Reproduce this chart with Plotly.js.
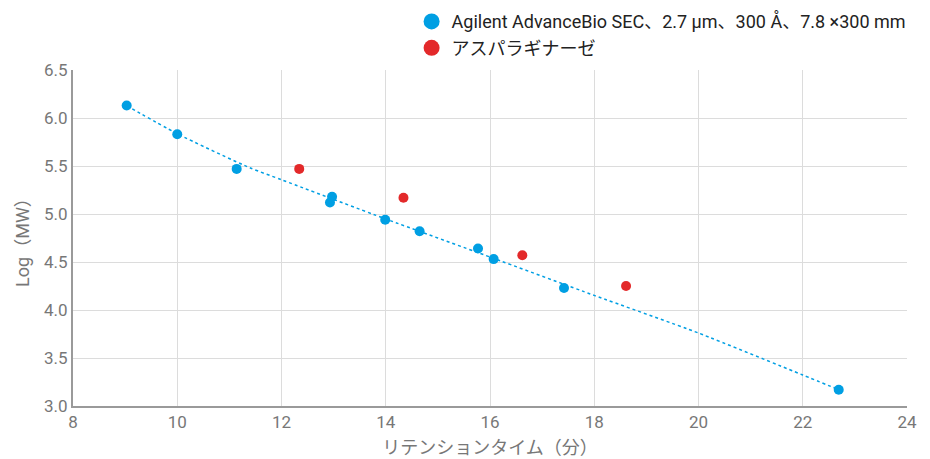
<!DOCTYPE html>
<html>
<head>
<meta charset="utf-8">
<script src="https://cdn.plot.ly/plotly-3.0.1.min.js"></script>
<style>html,body{margin:0;padding:0;background:#fff;}#chart{width:930px;height:459px;}</style>
</head>
<body>
<div id="chart"></div>
<script>
// Column standards (blue)
const stdName = "Agilent AdvanceBio SEC、2.7 µm、300 Å、7.8 ×300 mm";
const stdTime = [9.03, 10.0, 11.14, 12.97, 12.93, 13.99, 14.65, 15.77, 16.07, 17.42, 22.69];
const stdLogMW = [6.13, 5.83, 5.47, 5.18, 5.12, 4.94, 4.82, 4.64, 4.53, 4.23, 3.17];

// Asparaginase (red)
const aspName = "アスパラギナーゼ";
const aspTime = [12.34, 14.34, 16.62, 18.61];
const aspLogMW = [5.47, 5.17, 4.57, 4.25];

// Calibration curve
const fitTime = [9.03, 10.0, 11.39, 12.0, 14.0, 16.0, 18.0, 20.0, 22.0, 22.69];
const fitLogMW = [6.128, 5.836, 5.482, 5.357, 4.948, 4.552, 4.152, 3.760, 3.323, 3.170];

// Axis ticks
const xTicks = [8, 10, 12, 14, 16, 18, 20, 22, 24];
const yTicks = [3.0, 3.5, 4.0, 4.5, 5.0, 5.5, 6.0, 6.5];

const xTitle = "リテンションタイム（分）";
const yTitle = "Log（MW）";

const FONT = "Roboto, 'Noto Sans CJK JP', sans-serif";
const BLUE = "#009fe3";
const RED = "#e3292a";

const traces = [
  {
    x: fitTime, y: fitLogMW, mode: "lines", type: "scatter",
    line: {color: BLUE, width: 1.5, dash: "dot", shape: "spline", smoothing: 0.6},
    showlegend: false, hoverinfo: "skip"
  },
  {
    x: stdTime, y: stdLogMW, mode: "markers", type: "scatter", name: stdName,
    marker: {color: BLUE, size: 10}, showlegend: false
  },
  {
    x: aspTime, y: aspLogMW, mode: "markers", type: "scatter", name: aspName,
    marker: {color: RED, size: 10}, showlegend: false
  },
  // legend-only entries with larger symbols
  {
    x: [null], y: [null], mode: "markers", type: "scatter", name: stdName,
    marker: {color: BLUE, size: 16}, showlegend: true
  },
  {
    x: [null], y: [null], mode: "markers", type: "scatter", name: aspName,
    marker: {color: RED, size: 16}, showlegend: true
  }
];

const layout = {
  width: 930, height: 459,
  margin: {l: 73, r: 23, t: 70, b: 53},
  paper_bgcolor: "#fff", plot_bgcolor: "#fff",
  font: {family: FONT, size: 16, color: "#777"},
  showlegend: true,
  legend: {
    x: 0.406, xanchor: "left", y: 0.993, yref: "container", yanchor: "top",
    font: {family: FONT, size: 18, color: "#222"},
    bgcolor: "rgba(0,0,0,0)", itemsizing: "trace", tracegroupgap: 0
  },
  xaxis: {
    range: [8, 24], tickvals: xTicks, ticktext: xTicks.map(String),
    showgrid: true, gridcolor: "#dcdcdc", gridwidth: 1,
    showline: true, linecolor: "#9a9a9a", linewidth: 2,
    zeroline: false, ticks: "", ticklen: 0,
    tickfont: {family: FONT, size: 17, color: "#777"},
    title: {text: xTitle, font: {family: FONT, size: 18, color: "#777"}, standoff: 10}
  },
  yaxis: {
    range: [3.0, 6.5], tickvals: yTicks, ticktext: yTicks.map(v => v.toFixed(1)),
    showgrid: true, gridcolor: "#dcdcdc", gridwidth: 1,
    showline: true, linecolor: "#9a9a9a", linewidth: 2,
    zeroline: false, ticks: "", ticklen: 0,
    tickfont: {family: FONT, size: 17, color: "#777"},
    title: {text: yTitle, font: {family: FONT, size: 18, color: "#777"}, standoff: 10}
  }
};

Plotly.newPlot("chart", traces, layout, {displayModeBar: false, staticPlot: true});
</script>
</body>
</html>
